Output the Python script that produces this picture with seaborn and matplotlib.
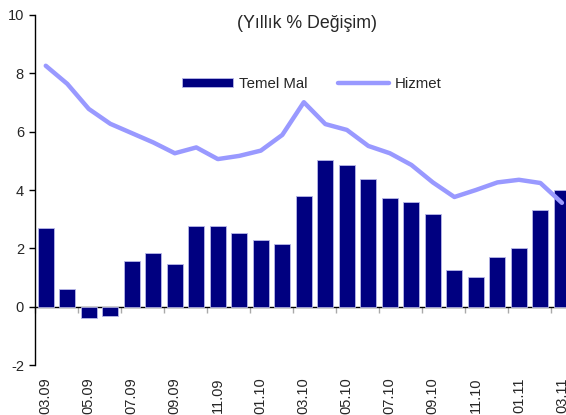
import numpy as np
import pandas as pd
import matplotlib
matplotlib.use("Agg")
import matplotlib.pyplot as plt
import seaborn as sns

months = ["03.09", "04.09", "05.09", "06.09", "07.09", "08.09", "09.09", "10.09",
          "11.09", "12.09", "01.10", "02.10", "03.10", "04.10", "05.10", "06.10",
          "07.10", "08.10", "09.10", "10.10", "11.10", "12.10", "01.11", "02.11", "03.11"]
temel_mal = [2.70, 0.61, -0.39, -0.31, 1.56, 1.85, 1.45, 2.76, 2.75, 2.53, 2.28, 2.16,
             3.78, 5.04, 4.84, 4.38, 3.72, 3.60, 3.17, 1.26, 1.03, 1.70, 2.00, 3.31, 4.00]
hizmet = [8.26, 7.64, 6.78, 6.27, 5.95, 5.63, 5.26, 5.46, 5.06, 5.17, 5.35, 5.89,
          7.01, 6.26, 6.06, 5.51, 5.26, 4.86, 4.26, 3.76, 4.00, 4.26, 4.35, 4.24, 3.56]
title_text = "(Yıllık % Değişim)"
y_ticks = [-2, 0, 2, 4, 6, 8, 10]

sns.set_style("white")
plt.rcParams["font.family"] = ["Liberation Sans", "DejaVu Sans"]
plt.rcParams["font.size"] = 10.5

df = pd.DataFrame({"pos": np.arange(len(months)), "month": months,
                   "Temel Mal": temel_mal, "Hizmet": hizmet})

fig = plt.figure(figsize=(5.66, 4.15), dpi=100)
ax = fig.add_axes([35 / 566, 1 - 365 / 415, 531 / 566, 350 / 415])

sns.barplot(data=df, x="pos", y="Temel Mal", color="#000080", saturation=1,
            width=0.75, edgecolor="#b8b8e8", linewidth=0.6, ax=ax,
            label="Temel Mal", native_scale=False)
sns.lineplot(x=df["pos"].to_numpy(), y=df["Hizmet"].to_numpy(), color="#9999ff",
             linewidth=3.2, ax=ax, label="Hizmet")

ax.set_ylim(-2, 10)
ax.set_xlim(-0.5, 24.19)
ax.set_yticks(y_ticks)
ax.set_yticklabels([str(t) for t in y_ticks])
ax.tick_params(axis="y", direction="out", length=4, width=1, color="black", pad=4,
               labelsize=10.5, left=True)

ax.set_xticks(np.arange(0, len(months), 2))
ax.set_xticklabels(months[::2], rotation=90)
ax.tick_params(axis="x", length=0, pad=9, labelsize=10.5)
ax.set_xlabel("")
ax.set_ylabel("")

for s in ["top", "right", "bottom"]:
    ax.spines[s].set_visible(False)
ax.spines["left"].set_color("black")
ax.spines["left"].set_linewidth(1)

# zero axis line with boundary ticks
sec = ax.secondary_xaxis(2 / 12)
sec.set_xticks(np.arange(-0.5, len(months), 2))
sec.set_xticklabels([])
sec.tick_params(direction="out", length=4, width=1, color="#aaaaaa")
sec.spines["bottom"].set_color("black")
sec.spines["bottom"].set_linewidth(1)

ax.text(0.512, 0.976, title_text, transform=ax.transAxes, ha="center", va="center",
        fontsize=12.8)

handles, labels = ax.get_legend_handles_labels()
order = [labels.index("Temel Mal"), labels.index("Hizmet")]
leg = ax.legend([handles[i] for i in order], [labels[i] for i in order],
                loc="center left", bbox_to_anchor=(0.277, 0.803), ncol=2,
                frameon=False, borderpad=0, borderaxespad=0, handlelength=3.4,
                handleheight=0.55, handletextpad=0.4, columnspacing=2.0,
                fontsize=10.8)

fig.savefig("out.png", dpi=100)
